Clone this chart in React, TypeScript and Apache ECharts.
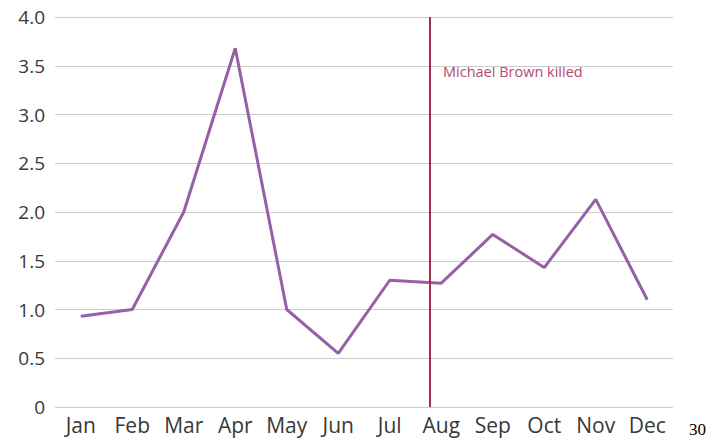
import React, { useEffect, useRef } from "react";
import * as echarts from "echarts";

const months = ["Jan", "Feb", "Mar", "Apr", "May", "Jun", "Jul", "Aug", "Sep", "Oct", "Nov", "Dec"];
const values = [0.93, 1.0, 2.0, 3.68, 1.0, 0.55, 1.3, 1.27, 1.77, 1.43, 2.13, 1.1];
const yTicks = { min: 0, max: 4, interval: 0.5 };
// Aug 9 expressed as a fractional month position (months elapsed since Jan 1)
const eventPosition = 7 + 8.5 / 31;
const eventLabel = "Michael Brown killed";
const pageNumber = "30";

export default function App() {
  const ref = useRef<HTMLDivElement>(null);

  useEffect(() => {
    if (!ref.current) return;
    const chart = echarts.init(ref.current, null, { renderer: "svg" });
    const points = values.map((v, i) => [i + 0.5, v]);
    chart.setOption({
      animation: false,
      grid: { left: 55, right: 40, top: 17, bottom: 34, containLabel: false },
      xAxis: [
        {
          type: "category",
          data: months,
          boundaryGap: true,
          axisLine: { show: false },
          axisTick: { show: false },
          axisLabel: {
            interval: 0,
            color: "#383838",
            fontFamily: "Open Sans",
            fontSize: 21,
            margin: 7,
          },
        },
        {
          type: "value",
          min: 0,
          max: months.length,
          show: false,
        },
      ],
      yAxis: {
        type: "value",
        min: yTicks.min,
        max: yTicks.max,
        interval: yTicks.interval,
        axisLine: { show: false },
        axisTick: { show: false },
        axisLabel: {
          color: "#383838",
          fontFamily: "Open Sans",
          fontSize: 19,
          margin: 10,
          formatter: (v: number) => (v === 0 ? "0" : v.toFixed(1)),
        },
        splitLine: { lineStyle: { color: "#cccccc", width: 1.2 } },
      },
      series: [
        {
          type: "line",
          xAxisIndex: 1,
          data: points,
          symbol: "none",
          lineStyle: { color: "#9660a6", width: 3 },
          markLine: {
            silent: true,
            symbol: "none",
            label: { show: false },
            lineStyle: { color: "#a62d4b", width: 2, type: "solid" },
            data: [{ xAxis: eventPosition }],
          },
        },
      ],
      graphic: [
        {
          type: "text",
          left: 443,
          top: 64,
          style: {
            text: eventLabel,
            fill: "#b5496d",
            font: "14.5px 'Open Sans'",
          },
        },
        {
          type: "text",
          left: 689,
          top: 421,
          style: {
            text: pageNumber,
            fill: "#000",
            font: "17px 'Liberation Serif'",
          },
        },
      ],
    });
    return () => chart.dispose();
  }, []);

  return (
    <div
      ref={ref}
      style={{ position: "fixed", left: 0, top: 0, width: 713, height: 441, background: "#fff" }}
    />
  );
}
